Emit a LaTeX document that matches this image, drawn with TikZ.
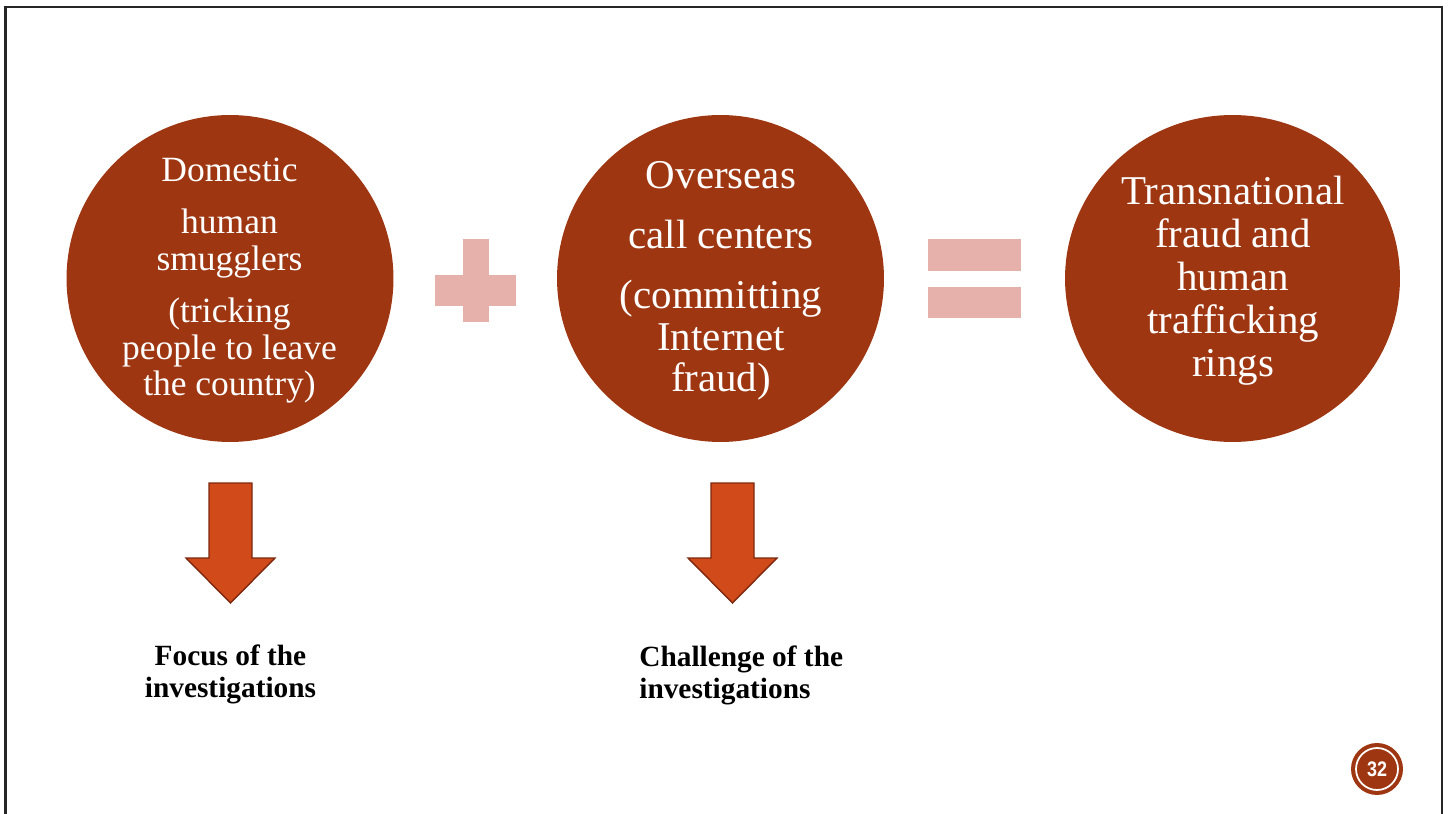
\documentclass[tikz,border=0pt]{standalone}
\usepackage{fontspec}
\setmainfont{Liberation Serif}
\setsansfont{Liberation Sans}
\usetikzlibrary{shapes.geometric}
\definecolor{rust}{RGB}{158,54,18}
\definecolor{arrowfill}{RGB}{208,74,26}
\definecolor{arrowline}{RGB}{125,40,14}
\definecolor{signpink}{RGB}{230,177,171}
\tikzset{
	bubble/.style={ellipse, fill=rust, minimum width=6.54cm, minimum height=6.54cm, inner sep=0pt},
	bubbletext/.style={text=white, align=center, anchor=base, inner sep=0pt},
	downarrow/.style={fill=arrowfill, draw=arrowline, line width=0.8pt, line join=miter},
	sign/.style={fill=signpink},
	caption/.style={font=\fontsize{16.7}{18.2}\selectfont\bfseries, inner sep=0pt, anchor=base}
}
\begin{document}
\begin{tikzpicture}[x=0.02cm, y=-0.02cm]
	\useasboundingbox (0,0) rectangle (1451,814);
	% slide frame
	\draw[black!85, line width=1.2pt] (5.5,814) -- (5.5,7) -- (1442,7) -- (1442,814);
	
	% circles
	\node[bubble] (domestic) at (230,278.5) {};
	\node[bubble] (overseas) at (720.5,278.5) {};
	\node[bubble, minimum width=6.7cm] (rings) at (1232.5,278.5) {};
	
	\node[bubbletext, font=\fontsize{20.2}{21}\selectfont] (domestic-text) at (229.5,396)
		{Domestic\\[8.5pt] human\\ smugglers\\[8.5pt] (tricking\\ people to leave\\ the country)};
	\node[bubbletext, font=\fontsize{23.3}{23.9}\selectfont] (overseas-text) at (721,392)
		{Overseas\\[10.2pt] call centers\\[10.2pt] (committing\\ Internet\\ fraud)};
	\node[bubbletext, font=\fontsize{23.3}{24.5}\selectfont] (rings-text) at (1233,377)
		{Transnational\\ fraud and\\ human\\ trafficking\\ rings};
	
	% plus and equals
	\fill[sign] (435,275) rectangle (516,306);
	\fill[sign] (463,239) rectangle (489,322);
	\fill[sign] (928,239) rectangle (1021,271);
	\fill[sign] (928,287) rectangle (1021,318);
	
	% arrows
	\filldraw[downarrow] (209,483) -- (252,483) -- (252,558) -- (275,558) -- (230.5,603)
		-- (186,558) -- (209,558) -- cycle;
	\filldraw[downarrow] (711,483) -- (754,483) -- (754,558) -- (777,558) -- (732.5,603)
		-- (688,558) -- (711,558) -- cycle;
	
	\node[caption, align=center] (focus) at (230.5,697) {Focus of the\\ investigations};
	\node[caption, align=left, anchor=base west] (challenge) at (639,698) {Challenge of the\\ investigations};
	
	% page number
	\node[circle, fill=rust, minimum size=1.04cm, inner sep=0pt] (pagenum) at (1377,769) {};
	\draw[white, line width=1pt] (pagenum.center) circle (21);
	\node[text=white, font=\sffamily\bfseries\fontsize{12}{12}\selectfont, xscale=0.85, inner sep=0pt] (pagelabel) at (pagenum.center) {32};
\end{tikzpicture}
\end{document}
